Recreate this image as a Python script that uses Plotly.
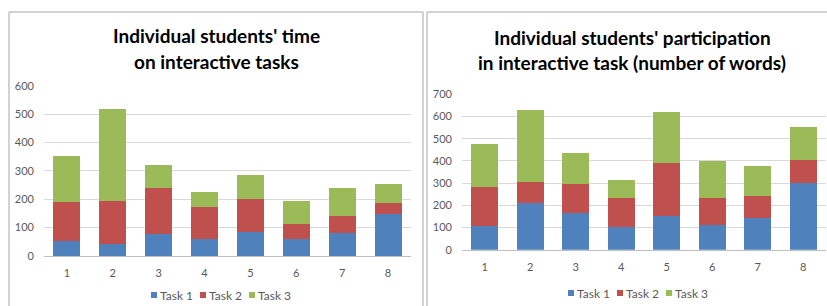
import plotly.graph_objects as go

students = ["1", "2", "3", "4", "5", "6", "7", "8"]
series_names = ["Task 1", "Task 2", "Task 3"]

# Left chart: time on interactive tasks (stacked)
time_task1 = [52, 44, 79, 61, 84, 61, 81, 147]
time_task2 = [138, 149, 162, 112, 118, 51, 60, 41]
time_task3 = [164, 326, 78, 52, 85, 82, 100, 66]

# Right chart: number of words (stacked)
words_task1 = [107, 209, 164, 102, 153, 113, 144, 302]
words_task2 = [174, 96, 130, 132, 236, 118, 96, 100]
words_task3 = [195, 323, 141, 80, 233, 170, 135, 149]

left_title = ["Individual students' time", "on interactive tasks"]
right_title = ["Individual students' participation", "in interactive task (number of words)"]

colors = ["#4F81BD", "#C0504D", "#9BBB59"]
W, H = 827, 306
FONT = "Lato"
TICKCOL = "#595959"

fig = go.Figure()

left = [time_task1, time_task2, time_task3]
right = [words_task1, words_task2, words_task3]
for name, vals, c in zip(series_names, left, colors):
    fig.add_trace(go.Bar(x=students, y=vals, name=name, marker=dict(color=c, line=dict(width=0)),
                         xaxis="x", yaxis="y", showlegend=False))
for name, vals, c in zip(series_names, right, colors):
    fig.add_trace(go.Bar(x=students, y=vals, name=name, marker=dict(color=c, line=dict(width=0)),
                         xaxis="x2", yaxis="y2", showlegend=False))

def px_x(p):
    return p / W

def px_y(p):
    return 1 - p / H

axis_common = dict(showgrid=False, showline=True, linecolor="#BFBFBF", linewidth=1,
                   ticks="", tickfont=dict(family=FONT, size=11, color=TICKCOL),
                   ticklabelstandoff=7, fixedrange=True)
yaxis_common = dict(showgrid=True, gridcolor="#D9D9D9", gridwidth=1, showline=False,
                    zeroline=False, ticks="", tickfont=dict(family=FONT, size=11, color=TICKCOL),
                    ticklabelstandoff=9, fixedrange=True)

fig.update_layout(
    width=W, height=H, autosize=False,
    margin=dict(l=0, r=0, t=0, b=0, pad=0, autoexpand=False),
    paper_bgcolor="white", plot_bgcolor="white",
    barmode="stack", bargap=0.41,
    showlegend=False,
    xaxis=dict(domain=[px_x(44), px_x(411)], anchor="y", **axis_common),
    yaxis=dict(domain=[px_y(256), px_y(85.7)], range=[0, 600], dtick=100, anchor="x", **yaxis_common),
    xaxis2=dict(domain=[px_x(462), px_x(826)], anchor="y2", **axis_common),
    yaxis2=dict(domain=[px_y(249.7), px_y(94.3)], range=[0, 700], dtick=100, anchor="x2", **yaxis_common),
    font=dict(family=FONT),
)

# Titles (one annotation per line to control spacing)
for txt, yc in zip(left_title, [35, 62]):
    fig.add_annotation(text=f"<b>{txt}</b>", x=px_x(216), y=px_y(yc), xref="paper", yref="paper",
                       showarrow=False, xanchor="center", yanchor="middle",
                       font=dict(family=FONT, size=19, color="black"))
for txt, yc in zip(right_title, [37, 63]):
    fig.add_annotation(text=f"<b>{txt}</b>", x=px_x(632), y=px_y(yc), xref="paper", yref="paper",
                       showarrow=False, xanchor="center", yanchor="middle",
                       font=dict(family=FONT, size=19, color="black"))

# Legends (compact, Excel style)
def add_legend(x0, yc):
    for i, (name, c) in enumerate(zip(series_names, colors)):
        sx = x0 + i * 49
        fig.add_shape(type="rect", xref="paper", yref="paper",
                      x0=px_x(sx), x1=px_x(sx + 6), y0=px_y(yc + 3), y1=px_y(yc - 3),
                      fillcolor=c, line=dict(width=0))
        fig.add_annotation(text=name, x=px_x(sx + 7), y=px_y(yc), xref="paper", yref="paper",
                           showarrow=False, xanchor="left", yanchor="middle",
                           font=dict(family=FONT, size=12, color=TICKCOL))

add_legend(151, 295)
add_legend(568, 293)

# Chart frames
frame = dict(color="#A6A6A6", width=1)
fig.add_shape(type="line", xref="paper", yref="paper", x0=px_x(9), x1=px_x(9), y0=px_y(12), y1=px_y(320), line=frame)
fig.add_shape(type="line", xref="paper", yref="paper", x0=px_x(9), x1=px_x(423), y0=px_y(12), y1=px_y(12), line=frame)
fig.add_shape(type="line", xref="paper", yref="paper", x0=px_x(423), x1=px_x(423), y0=px_y(12), y1=px_y(320), line=frame)
fig.add_shape(type="line", xref="paper", yref="paper", x0=px_x(427), x1=px_x(427), y0=px_y(12), y1=px_y(320), line=frame)
fig.add_shape(type="line", xref="paper", yref="paper", x0=px_x(427), x1=px_x(840), y0=px_y(12), y1=px_y(12), line=frame)

fig.write_html("out.html", config={"displayModeBar": False},
               post_script="document.body.style.margin='0';document.body.style.overflow='hidden';")
